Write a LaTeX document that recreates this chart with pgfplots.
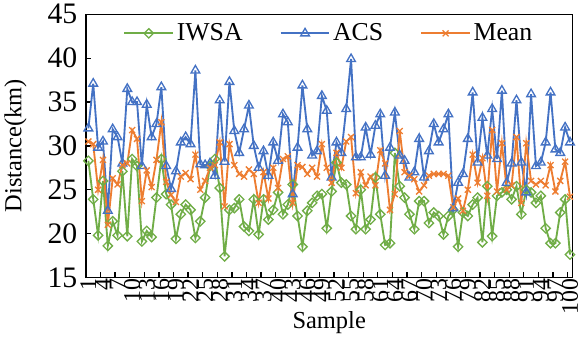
\documentclass[border=0pt]{standalone}
\usepackage{fontspec}
\setmainfont{Liberation Serif}
\usepackage{pgfplots}
\usepackage{pgfplotstable}
\pgfplotsset{compat=1.18}
\definecolor{cG}{RGB}{112,173,71}
\definecolor{cB}{RGB}{68,114,196}
\definecolor{cO}{RGB}{237,125,49}

\pgfplotstableread{
x IWSA ACS Mean
1 28.3 32.0 30.5
2 23.9 37.1 30.2
3 19.8 29.8 25.0
4 26.0 30.5 28.4
5 18.6 22.6 21.0
6 21.4 31.9 26.3
7 19.8 31.0 25.6
8 27.1 28.0 27.8
9 19.7 36.5 28.0
10 28.5 35.0 31.8
11 27.7 35.0 30.8
12 19.1 27.7 23.7
13 20.3 34.7 27.2
14 19.6 31.0 25.3
15 24.1 32.5 28.4
16 28.5 36.7 32.7
17 24.5 27.7 25.9
18 23.3 25.1 24.4
19 19.4 27.1 23.6
20 22.2 30.4 26.5
21 23.3 31.0 26.9
22 22.7 30.2 26.2
23 19.5 38.6 29.0
24 21.4 27.9 25.0
25 24.1 27.8 26.0
26 27.7 28.0 27.5
27 28.5 26.6 27.8
28 25.2 35.2 30.4
29 17.4 28.2 23.1
30 22.7 37.3 30.2
31 22.9 31.7 27.8
32 23.9 29.2 26.8
33 20.8 31.9 26.5
34 20.3 34.6 27.3
35 23.9 30.0 26.8
36 19.9 27.5 23.5
37 23.9 29.4 27.0
38 21.6 26.6 24.0
39 22.7 30.4 27.5
40 24.7 28.3 25.2
41 22.2 33.6 28.5
42 23.3 32.7 28.8
43 25.6 24.5 23.5
44 22.0 29.8 27.8
45 18.5 36.9 27.6
46 22.6 31.9 26.8
47 23.5 28.9 27.5
48 24.3 29.4 26.5
49 24.5 35.7 30.2
50 20.6 34.0 27.5
51 24.8 26.4 25.8
52 28.1 30.4 29.2
53 25.8 29.2 27.5
54 25.6 34.2 30.5
55 22.0 39.9 31.0
56 20.5 28.7 24.6
57 25.0 28.7 27.0
58 20.5 32.1 25.5
59 21.6 29.0 26.5
60 26.4 32.3 25.5
61 22.2 33.6 29.5
62 18.7 26.6 28.0
63 18.9 29.8 22.7
64 29.2 33.8 24.5
65 25.4 28.9 31.7
66 24.1 28.3 27.0
67 22.2 26.4 26.6
68 20.5 27.0 26.2
69 23.7 30.8 24.8
70 23.7 26.4 25.5
71 21.2 29.4 26.6
72 22.4 32.5 26.8
73 22.0 30.4 26.8
74 19.9 31.9 26.8
75 22.0 33.6 26.6
76 22.7 22.9 23.0
77 18.5 25.8 24.0
78 22.4 26.8 22.6
79 22.0 30.8 25.0
80 23.3 36.1 29.0
81 24.1 28.1 25.8
82 19.0 33.2 28.6
83 25.4 28.9 24.3
84 19.7 34.2 31.8
85 24.3 28.5 24.8
86 24.7 36.3 30.3
87 25.0 25.8 25.0
88 23.9 28.0 25.5
89 25.4 35.2 31.0
90 22.2 28.1 23.5
91 25.0 24.7 30.3
92 24.7 35.9 26.0
93 23.5 27.7 25.6
94 24.3 28.1 26.0
95 20.6 30.4 25.5
96 18.9 36.1 27.8
97 18.9 29.6 24.8
98 22.4 29.2 26.0
99 23.9 32.1 28.2
100 17.6 30.4 24.2
}\data

\begin{document}
\begin{tikzpicture}
\begin{axis}[
  scale only axis, width=368pt, height=199pt,
  xmin=0.5, xmax=100.5, ymin=15, ymax=45,
  ytick={15,20,...,45},
  xtick={3.5,6.5,...,99.5}, xticklabels={},
  extra x ticks={1,4,...,100},
  extra x tick style={major tick length=0pt,
    xticklabel style={rotate=90, anchor=east, inner sep=1pt, font=\fontsize{18}{20}\selectfont}},
  tick align=inside, tick pos=left,
  major tick length=4pt,
  axis line style={line width=1.2pt},
  every tick/.style={black, line width=1pt},
  /pgf/number format/assume math mode=true,
  yticklabel style={font=\fontsize{22.5}{24}\selectfont, xshift=-3pt},
  label style={font=\fontsize{18.5}{20}\selectfont},
  xlabel={Sample}, ylabel={Distance(km)},
  xlabel style={yshift=7pt},
  ylabel style={yshift=9pt},
  legend style={draw=none, fill=none, at={(0.5,0.985)}, anchor=north,
    font=\fontsize{19.5}{21}\selectfont,
    /tikz/every even column/.append style={column sep=26pt}},
  legend columns=3,
  legend image code/.code={\draw[mark repeat=2,mark phase=2] plot coordinates {(0cm,0cm)(0.65cm,0cm)(1.3cm,0cm)};},
]
\addplot[cG, line width=1.4pt, mark=square, mark size=2.5pt, mark options={solid, rotate=45, line width=1pt, fill=white}] table[x=x, y=IWSA] {\data};
\addlegendentry{IWSA}
\addplot[cB, line width=1.4pt, mark=triangle, mark size=3.8pt, mark options={solid, line width=1pt, fill=white}] table[x=x, y=ACS] {\data};
\addlegendentry{ACS}
\addplot[cO, line width=1.4pt, mark=x, mark size=3.2pt, mark options={solid, line width=1pt}] table[x=x, y=Mean] {\data};
\addlegendentry{Mean}
\end{axis}
\draw[draw=none] (current axis.south east) -- ++(8pt,0);
\end{tikzpicture}
\end{document}
